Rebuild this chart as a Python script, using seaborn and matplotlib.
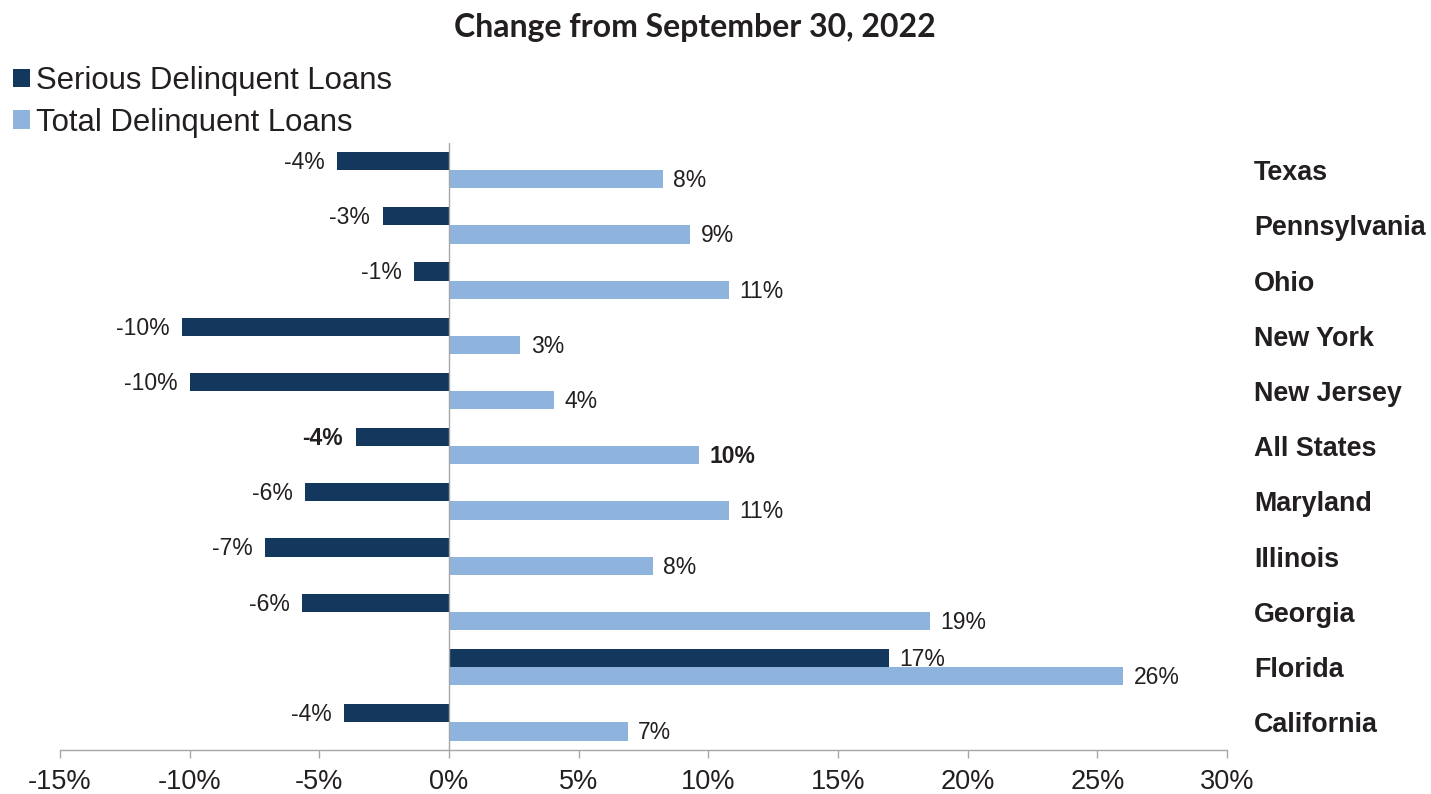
import matplotlib
matplotlib.use("Agg")
import matplotlib.pyplot as plt
import pandas as pd
import seaborn as sns

# Percent change in delinquent loans by state, from September 30, 2022
states = ["Texas", "Pennsylvania", "Ohio", "New York", "New Jersey", "All States",
          "Maryland", "Illinois", "Georgia", "Florida", "California"]
serious = [-4.3, -2.55, -1.35, -10.3, -10.0, -3.6, -5.55, -7.1, -5.65, 16.95, -4.05]
total = [8.25, 9.3, 10.8, 2.75, 4.05, 9.65, 10.8, 7.85, 18.55, 26.0, 6.9]
series = ["Serious Delinquent Loans", "Total Delinquent Loans"]
xticks = [-15, -10, -5, 0, 5, 10, 15, 20, 25, 30]

DARK = "#14375e"
LIGHT = "#8eb4de"
GRAY = "#a6a6a6"
TEXT = "#231f20"

sns.set_theme(style="white")
plt.rcParams["font.family"] = ["Liberation Sans", "DejaVu Sans"]

df = pd.DataFrame({
    "State": states * 2,
    "Change": serious + total,
    "Series": [series[0]] * len(states) + [series[1]] * len(states),
})

W, H = 1431, 794
fig = plt.figure(figsize=(W / 100, H / 100), dpi=100)
ax = fig.add_axes([60 / W, 1 - 750 / H, (1227 - 60) / W, (750 - 142.5) / H])

sns.barplot(data=df, y="State", x="Change", hue="Series", order=states,
            hue_order=series, palette=[DARK, LIGHT], saturation=1,
            width=0.66, orient="h", errorbar=None, linewidth=0, ax=ax)

ax.set_xlim(-15, 30)
ax.set_ylim(len(states) - 0.5, -0.5)
ax.set_xlabel("")
ax.set_ylabel("")

for side in ("top", "right", "left"):
    ax.spines[side].set_visible(False)
ax.spines["bottom"].set_color(GRAY)
ax.spines["bottom"].set_linewidth(1)
ax.axvline(0, color=GRAY, lw=1, zorder=3)

ax.set_xticks(xticks)
ax.set_xticklabels([f"{t}%" for t in xticks])
ax.tick_params(axis="x", bottom=True, direction="out", length=6, width=1,
               color=GRAY, pad=7.5, labelsize=19.5, labelcolor=TEXT)

ax.yaxis.tick_right()
ax.tick_params(axis="y", right=False, left=False, length=0, pad=19.5,
               labelsize=19.4, labelcolor=TEXT)
for lab in ax.get_yticklabels():
    lab.set_fontweight("bold")

# value labels next to each bar end
values = [serious, total]
for cont, vals in zip(ax.containers, values):
    for bar, v, st in zip(cont, vals, states):
        yc = bar.get_y() + bar.get_height() / 2
        weight = "bold" if st == "All States" else "normal"
        if v < 0:
            ax.annotate(f"{v:.0f}%", (v, yc), xytext=(-9, -1),
                        textcoords="offset points", ha="right", va="center",
                        fontsize=16.5, color=TEXT, fontweight=weight)
        else:
            ax.annotate(f"{v:.0f}%", (v, yc), xytext=(7.5, -1),
                        textcoords="offset points", ha="left", va="center",
                        fontsize=16.5, color=TEXT, fontweight=weight)

sns.move_legend(ax, "upper left", bbox_to_anchor=(13 / W, 1 - 66 / H),
                bbox_transform=fig.transFigure, frameon=False, title=None,
                fontsize=22.4, handlelength=0.55, handleheight=0.55,
                handletextpad=0.2, labelspacing=0.38, borderpad=0,
                borderaxespad=0)
for t in ax.get_legend().get_texts():
    t.set_color(TEXT)

fig.text(695 / W, 1 - 27 / H, "Change from September 30, 2022", ha="center",
         va="center", fontsize=23, fontweight="bold", family="Lato", color=TEXT)

fig.savefig("out.png", dpi=100)
